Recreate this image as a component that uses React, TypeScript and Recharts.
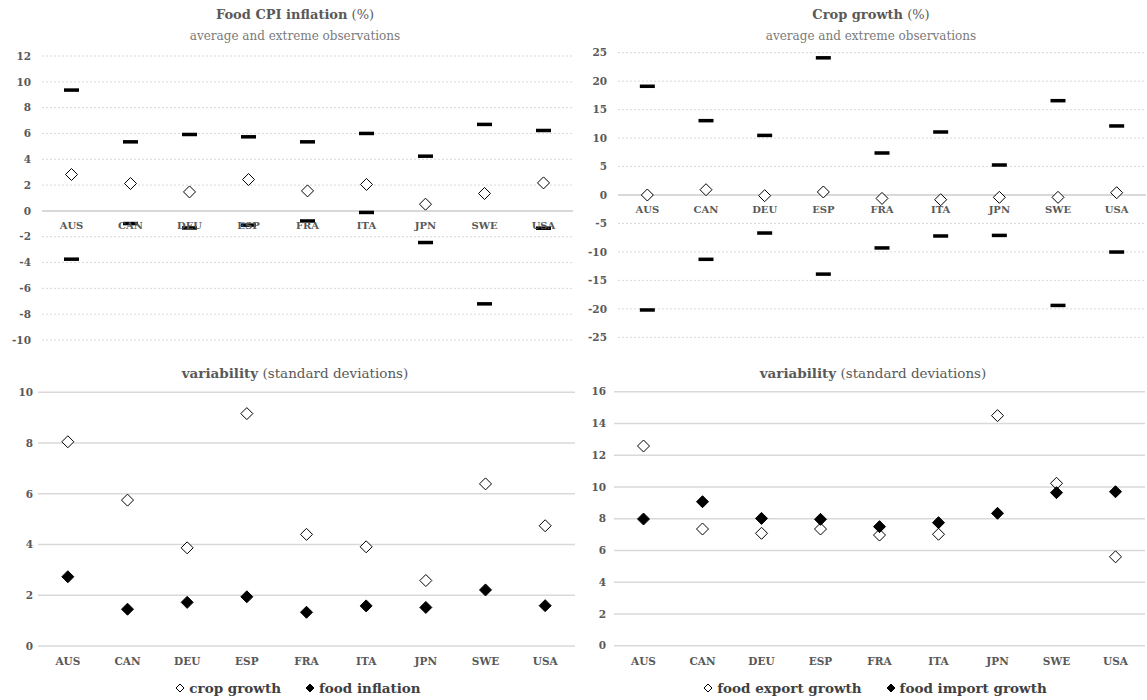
import React from 'react';
import { ComposedChart, Line, XAxis, YAxis, CartesianGrid, ReferenceLine, LabelList } from 'recharts';

const countries = ['AUS', 'CAN', 'DEU', 'ESP', 'FRA', 'ITA', 'JPN', 'SWE', 'USA'];

// food CPI inflation (%), average and extremes
const cpiAvg = [2.82, 2.12, 1.47, 2.43, 1.55, 2.05, 0.52, 1.35, 2.17];
const cpiMax = [9.36, 5.35, 5.92, 5.74, 5.35, 6.0, 4.24, 6.7, 6.23];
const cpiMin = [-3.74, -0.98, -1.32, -1.1, -0.78, -0.12, -2.45, -7.2, -1.34];

// crop growth (%), average and extremes
const cropAvg = [0.0, 0.93, -0.12, 0.53, -0.6, -0.83, -0.41, -0.41, 0.4];
const cropMax = [19.1, 13.06, 10.47, 24.1, 7.38, 11.07, 5.27, 16.57, 12.13];
const cropMin = [-20.2, -11.3, -6.68, -13.9, -9.3, -7.2, -7.1, -19.4, -10.02];

// standard deviations
const sdCrop = [8.05, 5.75, 3.87, 9.16, 4.4, 3.91, 2.58, 6.39, 4.74];
const sdFoodInfl = [2.73, 1.45, 1.72, 1.94, 1.33, 1.58, 1.52, 2.21, 1.59];
const sdExport = [12.58, 7.35, 7.08, 7.35, 6.97, 7.02, 14.49, 10.23, 5.6];
const sdImport = [7.98, 9.07, 8.02, 7.96, 7.5, 7.75, 8.34, 9.64, 9.7];

const cpiTicks = [-10, -8, -6, -4, -2, 0, 2, 4, 6, 8, 10, 12];
const cropTicks = [-25, -20, -15, -10, -5, 0, 5, 10, 15, 20, 25];
const sdFoodTicks = [0, 2, 4, 6, 8, 10];
const sdTradeTicks = [0, 2, 4, 6, 8, 10, 12, 14, 16];

const FONT = '"DejaVu Serif", serif';
const GRAY = '#595959';
const GRID = '#d9d9d9';

const cpiData = countries.map((c, i) => ({ country: c, zero: 0, avg: cpiAvg[i], max: cpiMax[i], min: cpiMin[i] }));
const cropData = countries.map((c, i) => ({ country: c, zero: 0, avg: cropAvg[i], max: cropMax[i], min: cropMin[i] }));
const sdFoodData = countries.map((c, i) => ({ country: c, open: sdCrop[i], filled: sdFoodInfl[i] }));
const sdTradeData = countries.map((c, i) => ({ country: c, open: sdExport[i], filled: sdImport[i] }));

const renderDash = (p: any) => {
  if (p.cx == null || p.cy == null) return <g key={`dash-${p.index}`} />;
  return <rect key={`dash-${p.index}`} x={p.cx - 7.5} y={p.cy - 1.75} width={15} height={3.5} fill="#000" />;
};

const diamondPath = (cx: number, cy: number, r: number) =>
  `M${cx} ${cy - r} L${cx + r} ${cy} L${cx} ${cy + r} L${cx - r} ${cy} Z`;

const renderOpen = (p: any) => {
  if (p.cx == null || p.cy == null) return <g key={`open-${p.index}`} />;
  return <path key={`open-${p.index}`} d={diamondPath(p.cx, p.cy, 6)} fill="#fff" stroke="#000" strokeWidth={1} />;
};

const renderFilled = (p: any) => {
  if (p.cx == null || p.cy == null) return <g key={`fill-${p.index}`} />;
  return <path key={`fill-${p.index}`} d={diamondPath(p.cx, p.cy, 6)} fill="#000" stroke="#000" strokeWidth={1} />;
};

const RangePanel = ({ data, ticks, width, margin, yWidth, tickGap }: any) => (
  <ComposedChart width={width} height={350} data={data} margin={margin}>
    <CartesianGrid vertical={false} stroke={GRID} strokeDasharray="2 2" />
    <XAxis dataKey="country" type="category" scale="band" hide />
    <YAxis
      type="number"
      domain={[ticks[0], ticks[ticks.length - 1]]}
      ticks={ticks}
      interval={0}
      width={yWidth}
      axisLine={false}
      tickLine={false}
      tickSize={0}
      tickMargin={tickGap}
      tick={{ fill: GRAY, fontSize: 10.5, fontWeight: 'bold', fontFamily: FONT }}
    />
    <ReferenceLine y={0} stroke={GRID} strokeWidth={2} />
    <Line dataKey="zero" stroke="none" dot={false} activeDot={false} isAnimationActive={false}>
      <LabelList dataKey="country" position="bottom" offset={11} fill={GRAY} fontSize={10} fontWeight="bold" fontFamily={FONT} />
    </Line>
    <Line dataKey="max" stroke="none" dot={renderDash} activeDot={false} isAnimationActive={false} />
    <Line dataKey="min" stroke="none" dot={renderDash} activeDot={false} isAnimationActive={false} />
    <Line dataKey="avg" stroke="none" dot={renderOpen} activeDot={false} isAnimationActive={false} />
  </ComposedChart>
);

const SdPanel = ({ data, ticks, width, margin, yWidth, tickGap }: any) => (
  <ComposedChart width={width} height={340} data={data} margin={margin}>
    <CartesianGrid vertical={false} stroke={GRID} strokeWidth={1.5} />
    <XAxis
      dataKey="country"
      type="category"
      scale="band"
      height={30}
      axisLine={false}
      tickLine={false}
      tickSize={0}
      tickMargin={12}
      interval={0}
      tick={{ fill: GRAY, fontSize: 10.5, fontWeight: 'bold', fontFamily: FONT }}
    />
    <YAxis
      type="number"
      domain={[ticks[0], ticks[ticks.length - 1]]}
      ticks={ticks}
      interval={0}
      width={yWidth}
      axisLine={false}
      tickLine={false}
      tickSize={0}
      tickMargin={tickGap}
      tick={{ fill: GRAY, fontSize: 10.5, fontWeight: 'bold', fontFamily: FONT }}
    />
    <Line dataKey="open" stroke="none" dot={renderOpen} activeDot={false} isAnimationActive={false} />
    <Line dataKey="filled" stroke="none" dot={renderFilled} activeDot={false} isAnimationActive={false} />
  </ComposedChart>
);

const Title = ({ cx, top, bold, rest, size }: any) => (
  <div style={{ position: 'absolute', left: cx - 250, width: 500, top, textAlign: 'center', fontSize: size, lineHeight: '16px', color: GRAY, whiteSpace: 'nowrap' }}>
    <b>{bold}</b> {rest}
  </div>
);

const Sub = ({ cx, top }: any) => (
  <div style={{ position: 'absolute', left: cx - 250, width: 500, top, textAlign: 'center', fontSize: 12, lineHeight: '14px', color: '#7a7a7a', whiteSpace: 'nowrap' }}>
    average and extreme observations
  </div>
);

const LegendItem = ({ filled, label }: any) => (
  <span style={{ display: 'inline-flex', alignItems: 'center', margin: '0 12px' }}>
    <svg width={10} height={10} style={{ marginRight: 4 }}>
      <path d={diamondPath(5, 5, 4)} fill={filled ? '#000' : '#fff'} stroke="#000" strokeWidth={1} />
    </svg>
    {label}
  </span>
);

const Legend2 = ({ cx, a, b }: any) => (
  <div style={{ position: 'absolute', left: cx - 250, width: 500, top: 680, textAlign: 'center', fontSize: 13.5, lineHeight: '16px', fontWeight: 'bold', color: '#404040', whiteSpace: 'nowrap' }}>
    <LegendItem filled={false} label={a} />
    <LegendItem filled label={b} />
  </div>
);

export default function App() {
  return (
    <div style={{ position: 'absolute', left: 0, top: 0, width: 1147, height: 700, background: '#fff', fontFamily: FONT, overflow: 'hidden' }}>
      <div style={{ position: 'absolute', left: 0, top: 0 }}>
        <RangePanel data={cpiData} ticks={cpiTicks} width={575} yWidth={40} tickGap={11}
          margin={{ top: 56, right: 2, bottom: 10, left: 2 }} />
      </div>
      <div style={{ position: 'absolute', left: 572, top: 0 }}>
        <RangePanel data={cropData} ticks={cropTicks} width={575} yWidth={46} tickGap={11}
          margin={{ top: 52.7, right: 1, bottom: 12.7, left: 0 }} />
      </div>
      <div style={{ position: 'absolute', left: 0, top: 360 }}>
        <SdPanel data={sdFoodData} ticks={sdFoodTicks} width={577} yWidth={38} tickGap={5}
          margin={{ top: 32.3, right: 2, bottom: 24, left: 0 }} />
      </div>
      <div style={{ position: 'absolute', left: 572, top: 360 }}>
        <SdPanel data={sdTradeData} ticks={sdTradeTicks} width={575} yWidth={42} tickGap={8}
          margin={{ top: 31.7, right: 2, bottom: 24.3, left: 0 }} />
      </div>

      <Title cx={295} top={7} bold="Food CPI inflation" rest="(%)" size={13} />
      <Sub cx={295} top={29} />
      <Title cx={871} top={7} bold="Crop growth" rest="(%)" size={13} />
      <Sub cx={871} top={29} />
      <Title cx={295} top={365} bold="variability" rest="(standard deviations)" size={13.5} />
      <Title cx={873} top={365} bold="variability" rest="(standard deviations)" size={13.5} />

      <Legend2 cx={298} a="crop growth" b="food inflation" />
      <Legend2 cx={875} a="food export growth" b="food import growth" />
    </div>
  );
}
